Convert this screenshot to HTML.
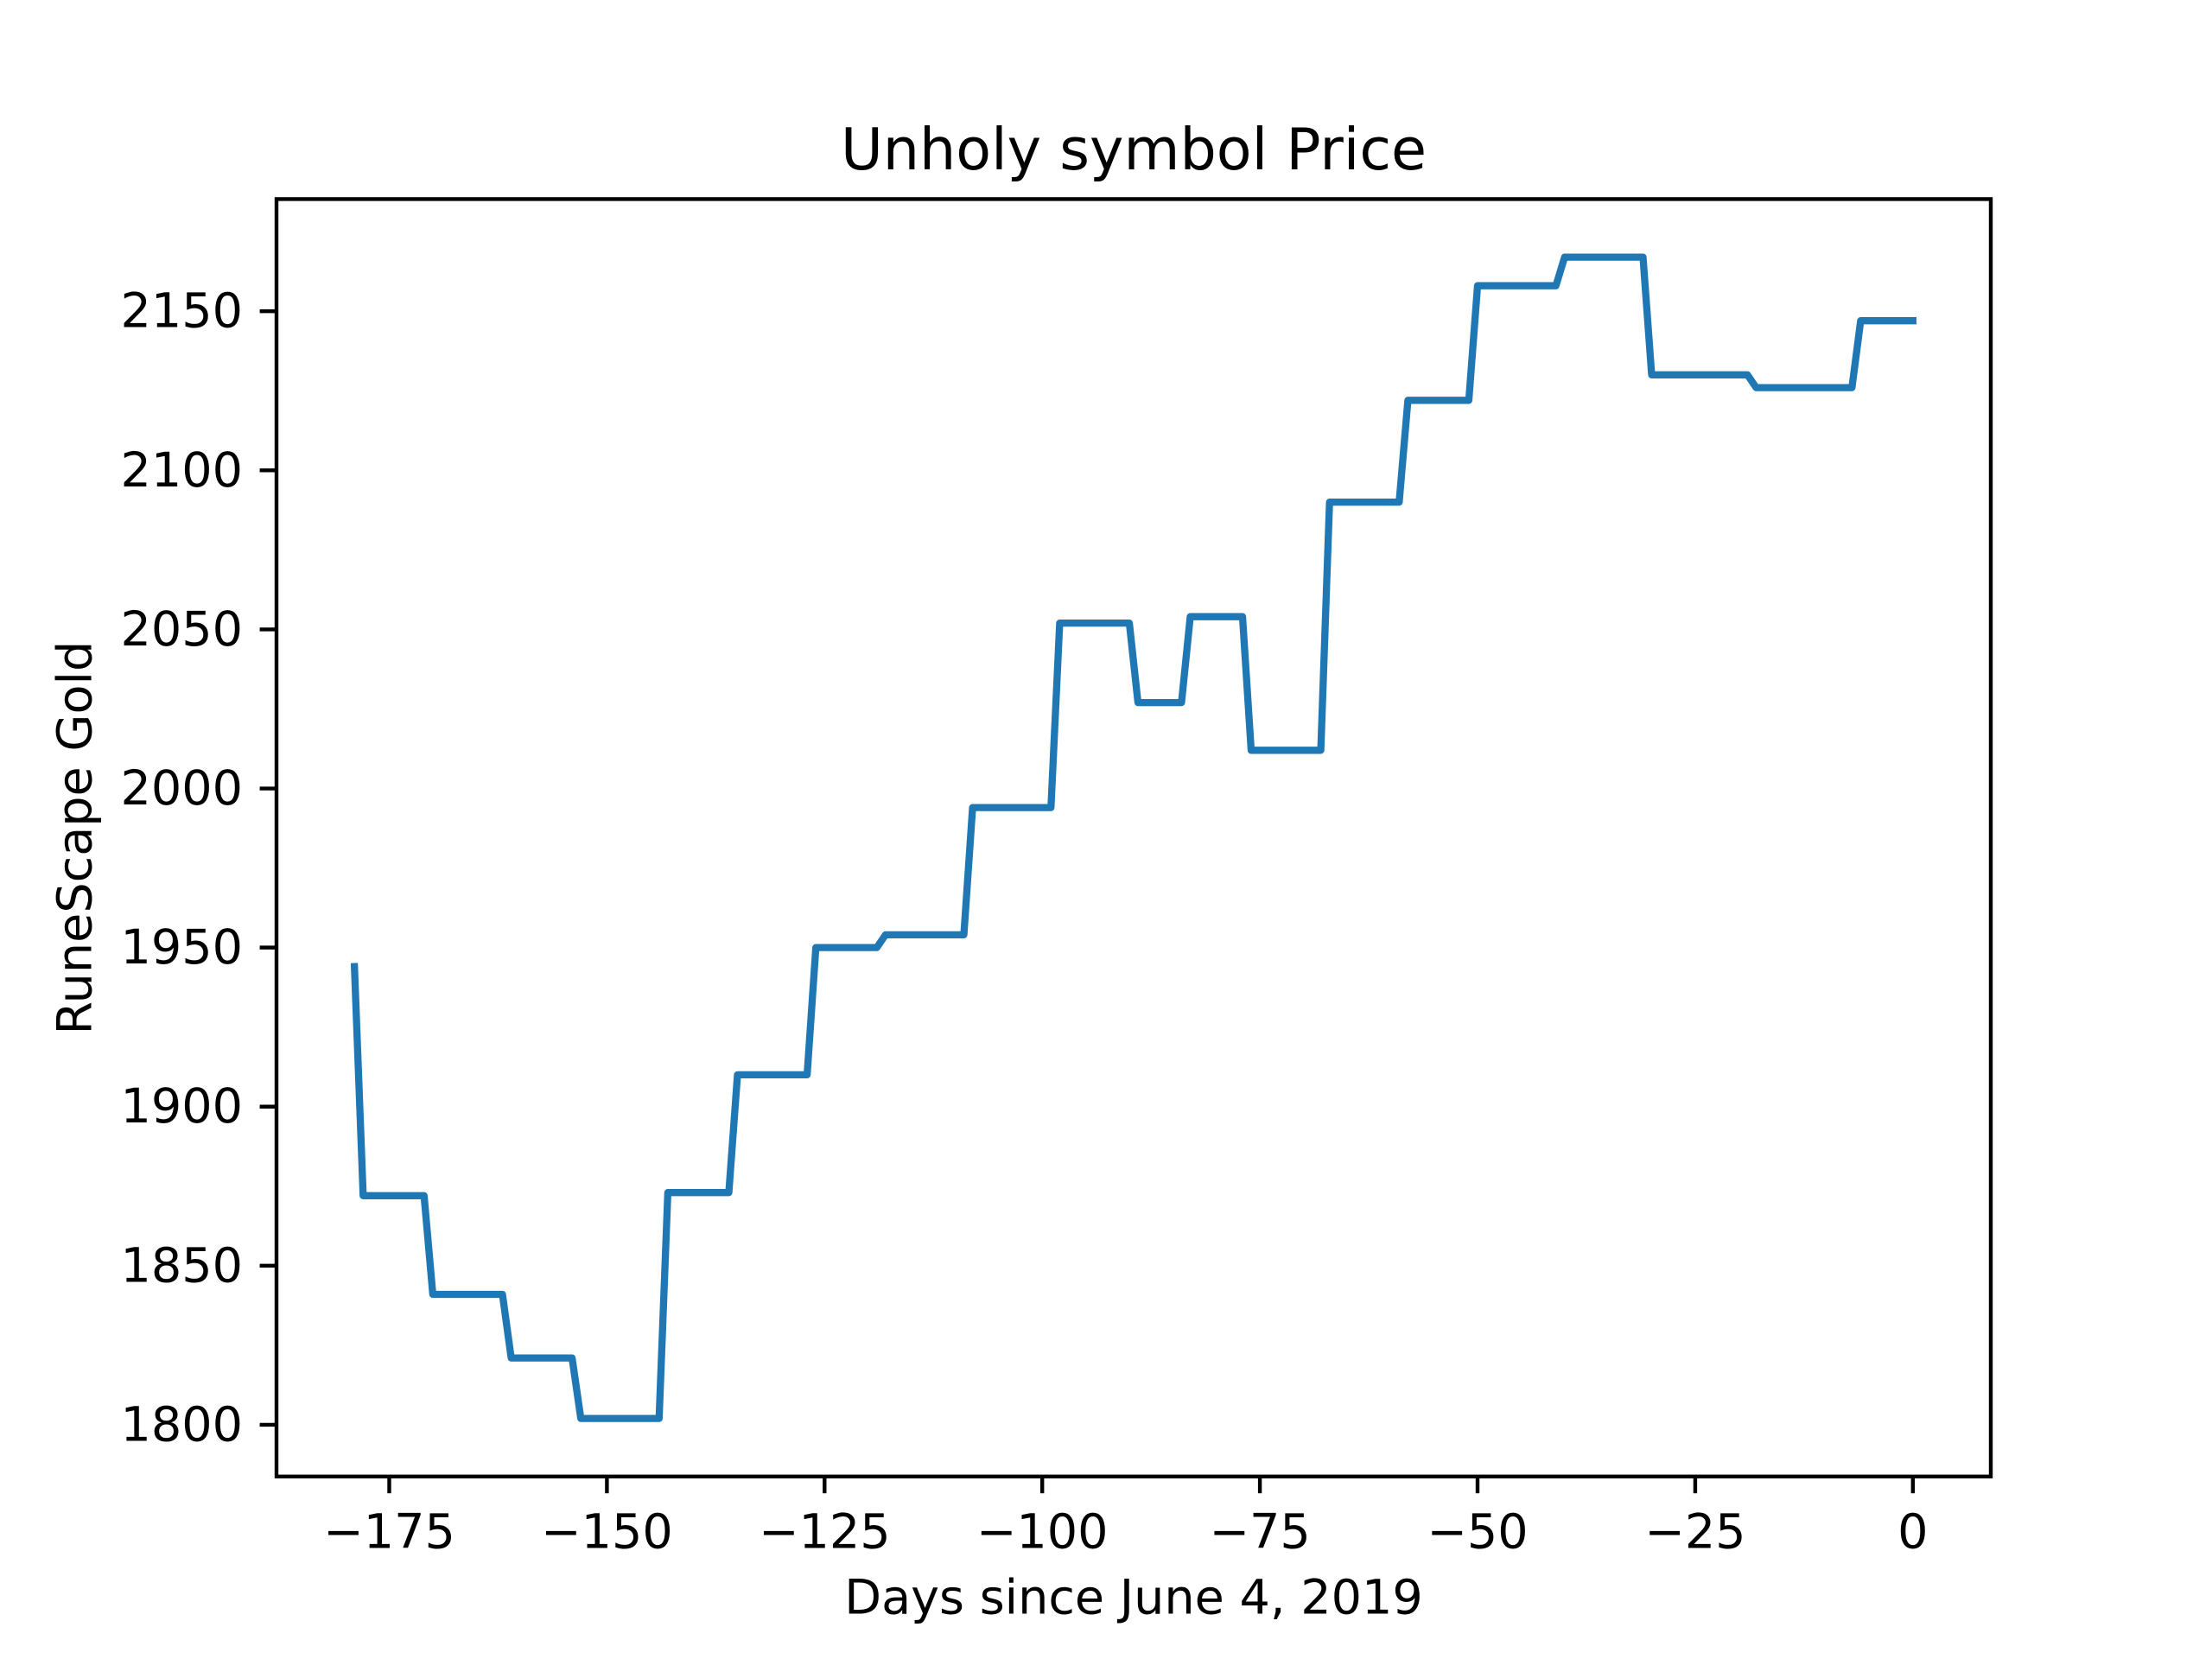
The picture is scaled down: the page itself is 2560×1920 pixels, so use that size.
<!DOCTYPE html>
<html><head><meta charset="utf-8"><style>
html,body{margin:0;padding:0;background:#fff;}
svg{display:block;font-family:"DejaVu Sans","Liberation Sans",sans-serif;}
</style></head><body>
<svg id="chart" width="2560" height="1920" viewBox="0 0 2560 1920" xmlns="http://www.w3.org/2000/svg">
<rect width="2560" height="1920" fill="#fff"/>
<text x="1312" y="173" font-size="66.7" text-anchor="middle" dominant-baseline="central">Unholy symbol Price</text>
<text x="1312" y="1849" font-size="55.6" text-anchor="middle" dominant-baseline="central">Days since June 4, 2019</text>
<text x="87" y="969.6" font-size="55.6" text-anchor="middle" dominant-baseline="central" transform="rotate(-90 87 969.6)">RuneScape Gold</text>
<g id="ticks"></g>
<path id="series" fill="none" stroke="#1f77b4" stroke-width="8.3" stroke-linejoin="round" stroke-linecap="square"/>
<rect x="320" y="230.4" width="1984" height="1478.4" fill="none" stroke="#000" stroke-width="4.4"/>
</svg>
<script>
const days = [-179,-178,-171,-170,-162,-161,-154,-153,-144,-143,-136,-135,-127,-126,-119,-118,-109,-108,-99,-98,-90,-89,-84,-83,-77,-76,-68,-67,-59,-58,-51,-50,-41,-40,-31,-30,-19,-18,-7,-6,0];
const prices = [1944,1872,1872,1841,1841,1821,1821,1802,1802,1873,1873,1910,1910,1950,1950,1954,1954,1994,1994,2052,2052,2027,2027,2054,2054,2012,2012,2090,2090,2122,2122,2158,2158,2167,2167,2130,2130,2126,2126,2147,2147];
const xTicks = [-175,-150,-125,-100,-75,-50,-25,0];
const yTicks = [1800,1850,1900,1950,2000,2050,2100,2150];

const L=320,R=2304,T=230.4,B=1708.8;
const xmin=Math.min(...days),xmax=Math.max(...days),xm=(xmax-xmin)*0.05;
const ymin=Math.min(...prices),ymax=Math.max(...prices),ym=(ymax-ymin)*0.05;
const x=d=>L+(d-(xmin-xm))/((xmax+xm)-(xmin-xm))*(R-L);
const y=v=>B-(v-(ymin-ym))/((ymax+ym)-(ymin-ym))*(B-T);
const NS='http://www.w3.org/2000/svg';
const g=document.getElementById('ticks');
function mk(tag,attrs){const e=document.createElementNS(NS,tag);for(const k in attrs)e.setAttribute(k,attrs[k]);return e;}
xTicks.forEach(t=>{
  const X=x(t);
  const ln=mk('line',{x1:X,x2:X,y1:B,y2:B+19.4,stroke:'#000','stroke-width':4.4});
  
  
  g.appendChild(ln);
  const tx=mk('text',{x:X,y:1773,'font-size':55.6,'text-anchor':'middle','dominant-baseline':'central'});
  tx.textContent=(t<0?'\u2212'+Math.abs(t):''+t);
  
  
  g.appendChild(tx);
});
yTicks.forEach(t=>{
  const Y=y(t);
  const ln=mk('line',{x1:L-19.4,x2:L,y1:Y,y2:Y,stroke:'#000','stroke-width':4.4});
  
  
  g.appendChild(ln);
  const tx=mk('text',{x:281,y:Y,'font-size':55.6,'text-anchor':'end','dominant-baseline':'central'});
  tx.textContent=''+t;
  
  
  g.appendChild(tx);
});
document.getElementById('series').setAttribute('d',days.map((d,i)=>(i?'L':'M')+x(d).toFixed(1)+' '+y(prices[i]).toFixed(1)).join(' '));
</script>
</body></html>
